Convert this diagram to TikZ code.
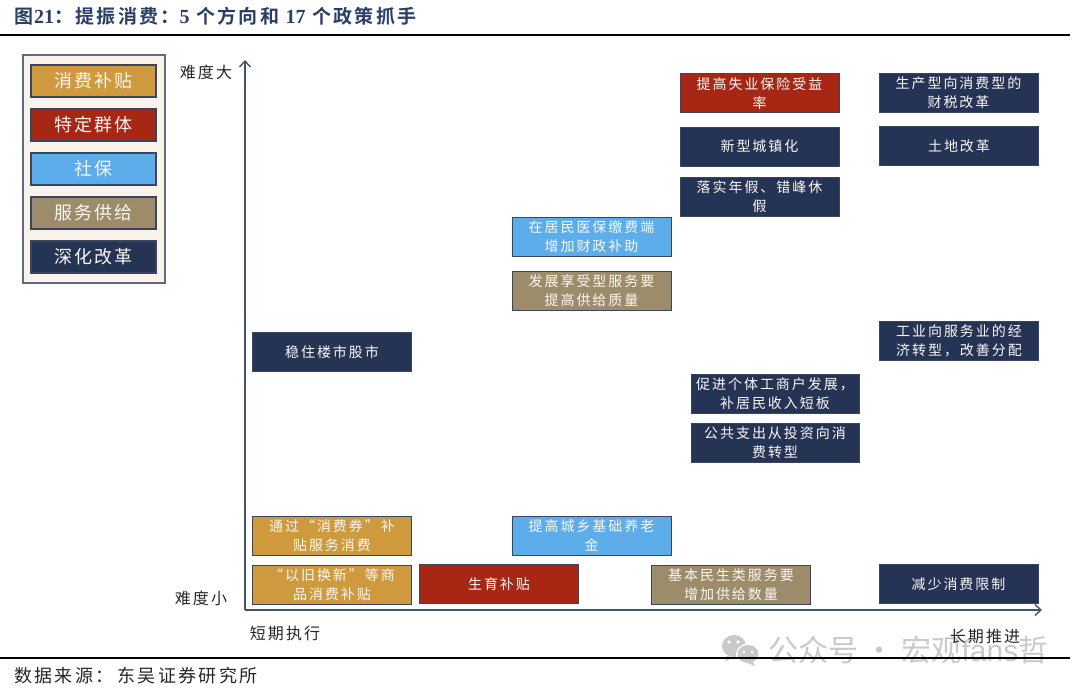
\documentclass[tikz,border=0pt]{standalone}
\usepackage{fontspec}
\usetikzlibrary{arrows.meta}
\setmainfont{Liberation Serif}
\newfontfamily\boxcjk[LetterSpace=14]{Noto Sans CJK SC}
\newfontfamily\legcjk[LetterSpace=11]{Noto Sans CJK SC}
\newfontfamily\titlecjk[LetterSpace=12,BoldFont={Noto Sans CJK SC Bold}]{Noto Sans CJK SC}
\newfontfamily\axcjk[LetterSpace=13]{Noto Sans CJK SC}
\newfontfamily\wmcjk{Noto Sans CJK SC}
\newfontfamily\wmlat{Liberation Sans}
\definecolor{cgold}{HTML}{CF9A3E}
\definecolor{cred}{HTML}{A72614}
\definecolor{cblue}{HTML}{5DADEA}
\definecolor{ctan}{HTML}{9C8C6A}
\definecolor{cnavy}{HTML}{253355}
\definecolor{cedge}{HTML}{3A4560}
\definecolor{ccream}{HTML}{F9F3E9}
\definecolor{ctitle}{HTML}{2A3F66}
\definecolor{caxis}{HTML}{44546A}
\definecolor{cwm}{HTML}{C9C9C9}
\tikzset{
  policy/.style={draw=cedge,line width=1pt,minimum width=159pt,minimum height=39pt,inner sep=0pt,
    align=center,text=white!94!brown,font=\boxcjk\fontsize{14}{19}\selectfont,
    execute at begin node={\vspace*{3pt}}},
  widepolicy/.style={policy,minimum width=168pt},
  legitem/.style={draw=cedge,line width=1.2pt,minimum width=125pt,minimum height=32pt,inner sep=0pt,
    text=white!92!brown,font=\legcjk\fontsize{18}{20}\selectfont},
  axlabel/.style={inner sep=0pt,text=black!85,font=\axcjk\fontsize{16}{18}\selectfont},
  axisline/.style={draw=caxis,line width=1.4pt,-{Straight Barb[length=6pt,width=11pt]}},
  rulebar/.style={draw=black,line width=1.8pt},
  srctext/.style={inner sep=0pt,anchor=west,text=black!85,font=\axcjk\fontsize{18}{20}\selectfont}
}
\begin{document}
\begin{tikzpicture}[x=1pt,y=-1pt]
\useasboundingbox (0,0) rectangle (1080,693);
% watermark
\fill[cwm] (734,646) ellipse [x radius=12,y radius=11];
\fill[cwm] (727,656) -- (725,662) -- (733,657) -- cycle;
\fill[white] (748,654) ellipse [x radius=12,y radius=10.5];
\fill[cwm] (748,654) ellipse [x radius=10.5,y radius=9];
\fill[cwm] (752,661) -- (755,666) -- (745,662) -- cycle;
\fill[white] (729,642) circle (1.8) (738,642) circle (1.8) (744,652) circle (1.5) (752,652) circle (1.5);
\node[inner sep=0pt,anchor=west,text=cwm] (wm) at (768,650) {\fontsize{30}{32}\selectfont\wmcjk 公众号 · 宏观\wmlat fans\wmcjk 哲};
% title
\node[inner sep=0pt,anchor=west,text=ctitle] (title) at (14,16)
 {\fontsize{19}{20}\selectfont\titlecjk\bfseries 图\hspace{1pt}{\rmfamily\bfseries\fontsize{20}{20}\selectfont 21}：提振消费：{\rmfamily\bfseries\fontsize{20}{20}\selectfont 5} 个方向和 {\rmfamily\bfseries\fontsize{20}{20}\selectfont 17} 个政策抓手};
\coordinate (rt1) at (0,35); \coordinate (rt2) at (1070,35);
\draw[rulebar] (rt1) -- (rt2);
\coordinate (rb1) at (0,658); \coordinate (rb2) at (1070,658);
\draw[rulebar] (rb1) -- (rb2);
\node[srctext] (src) at (14,676) {数据来源：\hspace{4pt}东吴证券研究所};
% legend
\node[draw=cedge!80,line width=1.2pt,fill=ccream,minimum width=142pt,minimum height=228pt,inner sep=0pt] (legend) at (94,169) {};
\node[legitem,fill=cgold] (l1) at (93.5,81) {\raisebox{-1pt}{消费补贴}};
\node[legitem,fill=cred] (l2) at (93.5,125) {\raisebox{-1pt}{特定群体}};
\node[legitem,fill=cblue] (l3) at (93.5,169) {\raisebox{-1pt}{社保}};
\node[legitem,fill=ctan] (l4) at (93.5,213) {\raisebox{-1pt}{服务供给}};
\node[legitem,fill=cnavy] (l5) at (93.5,257) {\raisebox{-1pt}{深化改革}};
% axes
\coordinate (origin) at (245,610);
\coordinate (ytop) at (245,60);
\coordinate (xend) at (1042,610);
\draw[axisline] (origin) -- (ytop);
\draw[axisline] (origin) -- (xend);
\node[axlabel] (ymax) at (206,72) {难度大};
\node[axlabel] (ymin) at (201,598) {难度小};
\node[axlabel] (xmin) at (285,633) {短期执行};
\node[axlabel] (xmax) at (985,636) {长期推进};
% policy boxes
\node[policy,fill=cred] (a1) at (759.5,93.5) {提高失业保险受益\\率};
\node[policy,fill=cnavy] (a2) at (958.5,93) {生产型向消费型的\\财税改革};
\node[policy,fill=cnavy] (a3) at (759.5,146.5) {新型城镇化};
\node[policy,fill=cnavy] (a4) at (959,146) {土地改革};
\node[policy,fill=cnavy] (a5) at (759.5,196.5) {落实年假、错峰休\\假};
\node[policy,fill=cblue] (a6) at (591.5,237) {在居民医保缴费端\\增加财政补助};
\node[policy,fill=ctan] (a7) at (591.5,290.5) {发展享受型服务要\\提高供给质量};
\node[policy,fill=cnavy] (a8) at (332,352) {稳住楼市股市};
\node[policy,fill=cnavy] (a9) at (959,341) {工业向服务业的经\\济转型，改善分配};
\node[widepolicy,fill=cnavy] (a10) at (775,394) {促进个体工商户发展，\\补居民收入短板};
\node[widepolicy,fill=cnavy] (a11) at (775,443) {公共支出从投资向消\\费转型};
\node[policy,fill=cgold] (a12) at (332,535.5) {通过“消费券”补\\贴服务消费};
\node[policy,fill=cblue] (a13) at (591.5,535.5) {提高城乡基础养老\\金};
\node[policy,fill=cgold] (a14) at (332,584.5) {“以旧换新”等商\\品消费补贴};
\node[policy,fill=cred] (a15) at (499,584) {生育补贴};
\node[policy,fill=ctan] (a16) at (731,584.5) {基本民生类服务要\\增加供给数量};
\node[policy,fill=cnavy] (a17) at (958.5,584) {减少消费限制};
\end{tikzpicture}
\end{document}
